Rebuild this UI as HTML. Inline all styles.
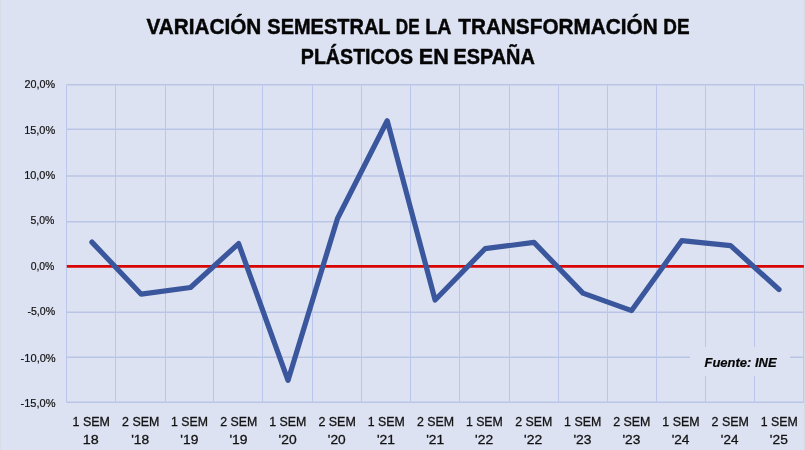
<!DOCTYPE html>
<html lang="es">
<head>
<meta charset="utf-8">
<title>Variación semestral de la transformación de plásticos en España</title>
<style>
html,body{margin:0;padding:0;background:#dde2f2;}
body{width:805px;height:450px;overflow:hidden;}
svg{display:block;font-family:"Liberation Sans",sans-serif;}
.t{font-weight:bold;font-size:21.2px;fill:#050505;stroke:#050505;stroke-width:.45px;}
.y{font-size:10.8px;fill:#111;stroke:#111;stroke-width:.2px;}
.x{font-size:13.5px;fill:#121212;stroke:#121212;stroke-width:.3px;}
.x2{font-size:13.6px;fill:#121212;stroke:#121212;stroke-width:.3px;}
.f{font-weight:bold;font-style:italic;font-size:13.3px;fill:#050505;stroke:#050505;stroke-width:.2px;}
</style>
</head>
<body>
<svg width="805" height="450" viewBox="0 0 805 450">
<rect x="0" y="0" width="805" height="450" fill="#dde2f2"/>
<g stroke="#b9c5e5" stroke-width="1.5" fill="none">
<line x1="66.80" y1="84.70" x2="803.80" y2="84.70"/>
<line x1="66.80" y1="129.20" x2="803.80" y2="129.20"/>
<line x1="66.80" y1="176.10" x2="803.80" y2="176.10"/>
<line x1="66.80" y1="221.80" x2="803.80" y2="221.80"/>
<line x1="66.80" y1="266.30" x2="803.80" y2="266.30"/>
<line x1="66.80" y1="312.30" x2="803.80" y2="312.30"/>
<line x1="66.80" y1="357.30" x2="803.80" y2="357.30"/>
<line x1="66.80" y1="402.20" x2="803.80" y2="402.20"/>
</g>
<g stroke="#bac7eb" stroke-width="1" fill="none">
<line x1="66.50" y1="84.70" x2="66.50" y2="402.20"/>
<line x1="115.50" y1="84.70" x2="115.50" y2="402.20"/>
<line x1="165.50" y1="84.70" x2="165.50" y2="402.20"/>
<line x1="213.50" y1="84.70" x2="213.50" y2="402.20"/>
<line x1="262.50" y1="84.70" x2="262.50" y2="402.20"/>
<line x1="312.50" y1="84.70" x2="312.50" y2="402.20"/>
<line x1="361.50" y1="84.70" x2="361.50" y2="402.20"/>
<line x1="410.50" y1="84.70" x2="410.50" y2="402.20"/>
<line x1="459.50" y1="84.70" x2="459.50" y2="402.20"/>
<line x1="509.50" y1="84.70" x2="509.50" y2="402.20"/>
<line x1="558.50" y1="84.70" x2="558.50" y2="402.20"/>
<line x1="607.50" y1="84.70" x2="607.50" y2="402.20"/>
<line x1="656.50" y1="84.70" x2="656.50" y2="402.20"/>
<line x1="705.50" y1="84.70" x2="705.50" y2="402.20"/>
<line x1="754.50" y1="84.70" x2="754.50" y2="402.20"/>
<line x1="803.50" y1="84.70" x2="803.50" y2="402.20"/>
</g>
<line x1="66.80" y1="266.3" x2="804" y2="266.3" stroke="#d80505" stroke-width="2.8"/>
<rect x="803.9" y="0" width="1.1" height="450" fill="#d6d9e6"/>
<rect x="0" y="0" width="1.1" height="450" fill="#d7dce7"/>
<rect x="690" y="347" width="100" height="29" fill="#dde2f2"/>
<path d="M91.9,242.1 L141.2,294.2 L190.5,287.5 L238.6,243.6 L288.0,380.4 L337.5,218.5 L387.2,120.7 L435.1,300.0 L485.1,248.7 L534.0,242.4 L582.9,293.1 L631.6,310.6 L681.7,240.7 L730.6,245.6 L779.0,289.5" fill="none" stroke="#3a569c" stroke-width="5.2" stroke-linecap="round" stroke-linejoin="round"/>
<text class="t" y="34.3"><tspan x="146.38" textLength="114.94" lengthAdjust="spacingAndGlyphs">VARIACIÓN</tspan> <tspan x="267.34" textLength="122.83" lengthAdjust="spacingAndGlyphs">SEMESTRAL</tspan> <tspan x="395.85" textLength="23.82" lengthAdjust="spacingAndGlyphs">DE</tspan> <tspan x="425.26" textLength="25.50" lengthAdjust="spacingAndGlyphs">LA</tspan> <tspan x="458.21" textLength="199.54" lengthAdjust="spacingAndGlyphs">TRANSFORMACIÓN</tspan> <tspan x="663.36" textLength="26.31" lengthAdjust="spacingAndGlyphs">DE</tspan></text>
<text class="t" y="64.3"><tspan x="300.80" textLength="112.29" lengthAdjust="spacingAndGlyphs">PLÁSTICOS</tspan> <tspan x="418.85" textLength="30.02" lengthAdjust="spacingAndGlyphs">EN</tspan> <tspan x="453.41" textLength="81.46" lengthAdjust="spacingAndGlyphs">ESPAÑA</tspan></text>
<text class="y" x="24.60" y="88.40" textLength="30.55" lengthAdjust="spacingAndGlyphs">20,0%</text>
<text class="y" x="24.15" y="133.90" textLength="31.06" lengthAdjust="spacingAndGlyphs">15,0%</text>
<text class="y" x="24.15" y="178.60" textLength="31.06" lengthAdjust="spacingAndGlyphs">10,0%</text>
<text class="y" x="30.40" y="224.25" textLength="23.93" lengthAdjust="spacingAndGlyphs">5,0%</text>
<text class="y" x="30.63" y="269.70" textLength="23.69" lengthAdjust="spacingAndGlyphs">0,0%</text>
<text class="y" x="27.40" y="314.80" textLength="27.69" lengthAdjust="spacingAndGlyphs">-5,0%</text>
<text class="y" x="20.61" y="362.40" textLength="35.13" lengthAdjust="spacingAndGlyphs">-10,0%</text>
<text class="y" x="20.55" y="407.00" textLength="34.99" lengthAdjust="spacingAndGlyphs">-15,0%</text>
<text class="x" x="72.62" y="425.80" textLength="37.35" lengthAdjust="spacingAndGlyphs">1 SEM</text>
<text class="x2" x="82.83" y="444.00" textLength="15.94" lengthAdjust="spacingAndGlyphs">18</text>
<text class="x" x="122.08" y="425.80" textLength="37.23" lengthAdjust="spacingAndGlyphs">2 SEM</text>
<text class="x2" x="131.22" y="444.00" textLength="17.94" lengthAdjust="spacingAndGlyphs">'18</text>
<text class="x" x="171.12" y="425.80" textLength="36.85" lengthAdjust="spacingAndGlyphs">1 SEM</text>
<text class="x2" x="180.39" y="444.00" textLength="17.96" lengthAdjust="spacingAndGlyphs">'19</text>
<text class="x" x="220.31" y="425.80" textLength="37.01" lengthAdjust="spacingAndGlyphs">2 SEM</text>
<text class="x2" x="229.44" y="444.00" textLength="18.14" lengthAdjust="spacingAndGlyphs">'19</text>
<text class="x" x="269.31" y="425.80" textLength="37.13" lengthAdjust="spacingAndGlyphs">1 SEM</text>
<text class="x2" x="278.56" y="444.00" textLength="18.06" lengthAdjust="spacingAndGlyphs">'20</text>
<text class="x" x="318.38" y="425.80" textLength="37.41" lengthAdjust="spacingAndGlyphs">2 SEM</text>
<text class="x2" x="327.78" y="444.00" textLength="17.86" lengthAdjust="spacingAndGlyphs">'20</text>
<text class="x" x="367.75" y="425.80" textLength="36.99" lengthAdjust="spacingAndGlyphs">1 SEM</text>
<text class="x2" x="376.92" y="444.00" textLength="18.11" lengthAdjust="spacingAndGlyphs">'21</text>
<text class="x" x="416.92" y="425.80" textLength="37.10" lengthAdjust="spacingAndGlyphs">2 SEM</text>
<text class="x2" x="426.15" y="444.00" textLength="17.87" lengthAdjust="spacingAndGlyphs">'21</text>
<text class="x" x="465.89" y="425.80" textLength="36.96" lengthAdjust="spacingAndGlyphs">1 SEM</text>
<text class="x2" x="475.12" y="444.00" textLength="17.99" lengthAdjust="spacingAndGlyphs">'22</text>
<text class="x" x="515.15" y="425.80" textLength="37.04" lengthAdjust="spacingAndGlyphs">2 SEM</text>
<text class="x2" x="524.11" y="444.00" textLength="18.12" lengthAdjust="spacingAndGlyphs">'22</text>
<text class="x" x="564.10" y="425.80" textLength="37.16" lengthAdjust="spacingAndGlyphs">1 SEM</text>
<text class="x2" x="573.40" y="444.00" textLength="17.98" lengthAdjust="spacingAndGlyphs">'23</text>
<text class="x" x="613.18" y="425.80" textLength="37.25" lengthAdjust="spacingAndGlyphs">2 SEM</text>
<text class="x2" x="622.48" y="444.00" textLength="17.94" lengthAdjust="spacingAndGlyphs">'23</text>
<text class="x" x="662.30" y="425.80" textLength="37.22" lengthAdjust="spacingAndGlyphs">1 SEM</text>
<text class="x2" x="671.65" y="444.00" textLength="17.84" lengthAdjust="spacingAndGlyphs">'24</text>
<text class="x" x="711.51" y="425.80" textLength="37.36" lengthAdjust="spacingAndGlyphs">2 SEM</text>
<text class="x2" x="720.87" y="444.00" textLength="17.55" lengthAdjust="spacingAndGlyphs">'24</text>
<text class="x" x="760.78" y="425.80" textLength="36.99" lengthAdjust="spacingAndGlyphs">1 SEM</text>
<text class="x2" x="769.88" y="444.00" textLength="17.96" lengthAdjust="spacingAndGlyphs">'25</text>
<text class="f" x="704.50" y="367.00" textLength="72.06" lengthAdjust="spacingAndGlyphs">Fuente: INE</text>
</svg>
</body>
</html>
